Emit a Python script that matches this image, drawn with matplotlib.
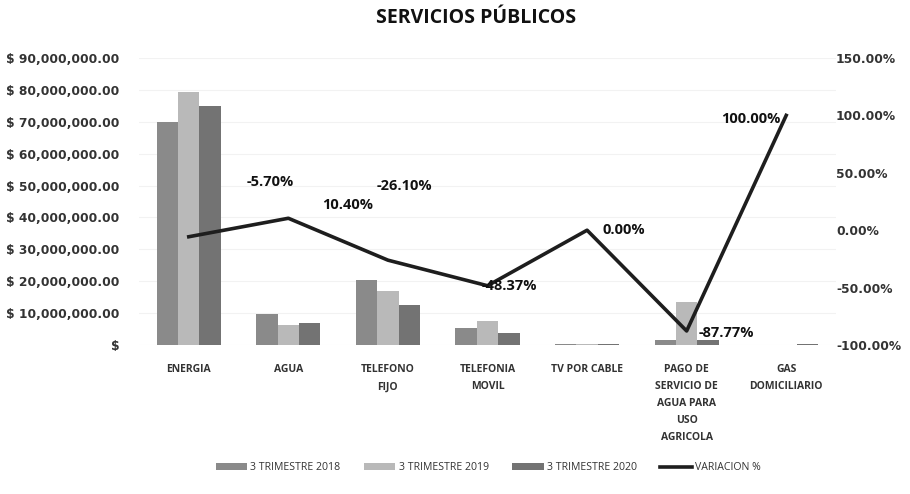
import matplotlib
matplotlib.use("Agg")
import matplotlib.pyplot as plt
import numpy as np
from matplotlib.ticker import FuncFormatter, MultipleLocator

plt.rcParams['font.family'] = ['Open Sans', 'DejaVu Sans']

categories = ["ENERGIA", "AGUA", "TELEFONO\nFIJO", "TELEFONIA\nMOVIL", "TV POR CABLE",
              "PAGO DE\nSERVICIO DE\nAGUA PARA\nUSO\nAGRICOLA", "GAS\nDOMICILIARIO"]
series_names = ["3 TRIMESTRE 2018", "3 TRIMESTRE 2019", "3 TRIMESTRE 2020"]
t2018 = [70.0e6, 9.8e6, 20.5e6, 5.2e6, 0.35e6, 1.5e6, 0.0]
t2019 = [79.3e6, 6.2e6, 17.0e6, 7.5e6, 0.30e6, 13.5e6, 0.15e6]
t2020 = [74.8e6, 6.8e6, 12.6e6, 3.9e6, 0.30e6, 1.65e6, 0.30e6]
variacion = [-5.70, 10.40, -26.10, -48.37, 0.00, -87.77, 100.00]
line_name = "VARIACION %"

W, H = 910, 494
fig = plt.figure(figsize=(W / 100, H / 100), dpi=100)
ax = fig.add_axes([139 / W, 1 - 345 / H, (836 - 139) / W, (345 - 58) / H])
ax2 = ax.twinx()

x = np.arange(len(categories))
bw = 0.215
colors = ["#8a8a8a", "#b9b9b9", "#737373"]
for i, (vals, c, name) in enumerate(zip([t2018, t2019, t2020], colors, series_names)):
    ax.bar(x + (i - 1) * bw, vals, bw, color=c, label=name, zorder=2)

ax.set_xlim(-0.5, len(categories) - 0.5)
ax.set_ylim(0, 90e6)
ax.yaxis.set_major_locator(MultipleLocator(10e6))
ax.yaxis.set_major_formatter(FuncFormatter(lambda v, p: "$" if v == 0 else "$ {:,.2f}".format(v)))
ax.grid(axis='y', color='#f2f2f2', linewidth=0.8, zorder=0)
ax.set_axisbelow(True)

ax2.plot(x, variacion, color="#1e1e1e", linewidth=2.6, label=line_name, zorder=3)
ax2.set_ylim(-100, 150)
ax2.yaxis.set_major_locator(MultipleLocator(50))
ax2.yaxis.set_major_formatter(FuncFormatter(lambda v, p: "{:.2f}%".format(v)))

# label offsets in pixels (dx, dy) and alignment
offsets = [(58, 55, 'left'), (34, 13, 'left'), (-11, 74, 'left'), (-6, 0, 'left'),
           (15, 0, 'left'), (12, -2, 'left'), (-6, -4, 'right')]
for xi, v, (dx, dy, ha) in zip(x, variacion, offsets):
    ax2.annotate("{:.2f}%".format(v), (xi, v), xytext=(dx * 0.72, dy * 0.72),
                 textcoords='offset points', ha=ha, va='center', fontsize=10.5,
                 fontweight='bold', color='#111111', zorder=5)

for a in (ax, ax2):
    for s in a.spines.values():
        s.set_visible(False)
    a.tick_params(length=0)

ax.set_xticks(x)
ax.set_xticklabels(categories, fontsize=7.5, fontweight='bold', color='#333333', linespacing=1.75)
ax.tick_params(axis='x', pad=14)
ax.tick_params(axis='y', pad=14, labelcolor='#333333')
for lbl in ax.get_yticklabels():
    lbl.set_fontweight('bold')
    lbl.set_fontfamily('DejaVu Sans')
    lbl.set_fontsize(8.8)
ax2.tick_params(axis='y', pad=0, labelcolor='#333333')
for lbl in ax2.get_yticklabels():
    lbl.set_fontweight('bold')
    lbl.set_fontfamily('DejaVu Sans')
    lbl.set_fontsize(8.8)

fig.text(476 / W, 1 - 18 / H, "SERVICIOS PÚBLICOS", ha='center', va='center',
         fontsize=14, fontweight='bold', color='#111111')

h1, l1 = ax.get_legend_handles_labels()
h2, l2 = ax2.get_legend_handles_labels()
fig.legend(h1 + h2, l1 + l2, loc='center', bbox_to_anchor=(488 / W, 1 - 468 / H), ncol=4,
           frameon=False, fontsize=7.6, handlelength=3.0, handleheight=0.6, columnspacing=2.2,
           handletextpad=0.3, labelcolor='#333333')

fig.savefig("out.png", dpi=100)
